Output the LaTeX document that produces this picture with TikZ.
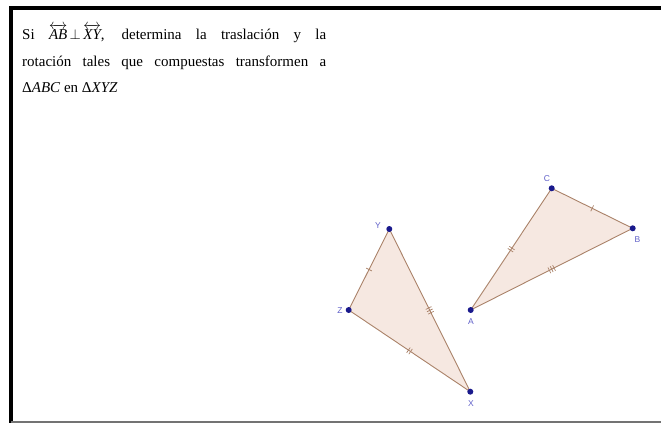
\documentclass[tikz,border=0pt]{standalone}
\usepackage{amsmath,amssymb}
\usepackage{fontspec}
\setmainfont{Liberation Serif}
\newfontfamily\labelfont{Liberation Sans}
\usepackage{xcolor}
\usepackage{tikz}
\usetikzlibrary{decorations.markings}

\begin{document}
\begin{tikzpicture}[x=1pt,y=-1pt]
\definecolor{cedge}{RGB}{170,130,105}
\definecolor{cfill}{RGB}{246,232,225}
\definecolor{cdot}{RGB}{25,25,140}
\definecolor{clab}{RGB}{95,95,200}
\tikzset{
  side/.style={draw=cedge,line width=0.9},
  dot/.style={circle,fill=cdot,inner sep=0,minimum size=6},
  lab/.style={text=clab,font=\labelfont\fontsize{8.5}{8.5}\selectfont,inner sep=0},
  ticks/.style={postaction={decorate},decoration={markings,mark=at position 0.5 with {\foreach \k in {1,...,#1}{\draw[cedge,line width=0.7] ({(\k-(#1+1)/2)*2.6},-3.2) -- ({(\k-(#1+1)/2)*2.6},3.2);}}}}
}
\useasboundingbox (0,0) rectangle (661,423);
% frame
\draw[line width=4] (9,8) -- (661,8);
\draw[line width=4] (11,6) -- (11,423);
\draw[black!55,line width=2] (11,422) -- (661,422);
% task text
\node[anchor=north west,inner sep=0,text width=304pt,align=justify,font=\fontsize{15}{26.7}\selectfont] (task) at (22,24)
  {Si \mbox{$\overleftrightarrow{\textit{AB}}\,{\perp}\,\overleftrightarrow{\textit{XY}}$}, determina la traslación y la\linebreak
   rotación tales que compuestas transformen a\linebreak
   Δ\textit{ABC} en Δ\textit{XYZ}};
% vertices
\coordinate (A) at (470.7,310);
\coordinate (B) at (632.7,228.3);
\coordinate (C) at (551.7,188.3);
\coordinate (X) at (470.3,391.7);
\coordinate (Y) at (389.3,229);
\coordinate (Z) at (348.7,310);
% triangle ABC
\fill[cfill] (A) -- (B) -- (C) -- cycle;
\draw[side,ticks=3] (A) -- (B);
\draw[side,ticks=1] (C) -- (B);
\draw[side,ticks=2] (A) -- (C);
% triangle XYZ
\fill[cfill] (X) -- (Y) -- (Z) -- cycle;
\draw[side,ticks=3] (X) -- (Y);
\draw[side,ticks=1] (Z) -- (Y);
\draw[side,ticks=2] (Z) -- (X);
% points
\node[dot] (dA) at (A) {};
\node[dot] (dB) at (B) {};
\node[dot] (dC) at (C) {};
\node[dot] (dX) at (X) {};
\node[dot] (dY) at (Y) {};
\node[dot] (dZ) at (Z) {};
\node[lab] (lA) at (471,321.5) {A};
\node[lab] (lB) at (637.5,240) {B};
\node[lab] (lC) at (547,179) {C};
\node[lab] (lX) at (471,404) {X};
\node[lab] (lY) at (378,226) {Y};
\node[lab] (lZ) at (340,311) {Z};
\end{tikzpicture}
\end{document}
